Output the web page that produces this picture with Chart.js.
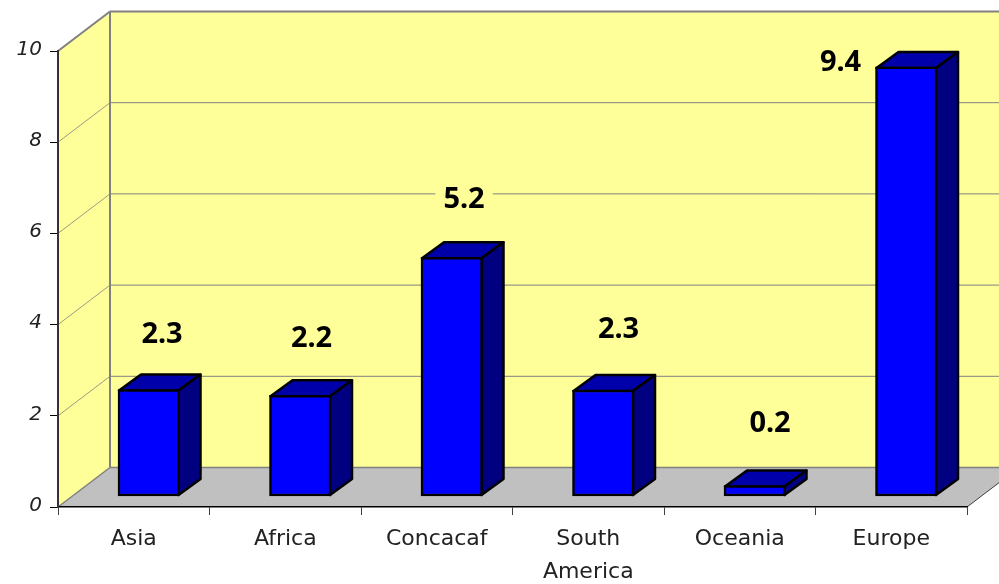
<!DOCTYPE html>
<html><head><meta charset="utf-8">
<style>html,body{margin:0;padding:0;background:#fff;overflow:hidden}canvas{display:block}</style>
<script src="https://cdn.jsdelivr.net/npm/chart.js@4"></script>
</head><body><canvas id="c" width="999" height="584" style="width:999px;height:584px"></canvas>
<script>
const categories = ['Asia', 'Africa', 'Concacaf', ['South', 'America'], 'Oceania', 'Europe'];
const values = [2.345, 2.22, 5.245, 2.335, 0.24, 9.42];
const yTicks = [0, 2, 4, 6, 8, 10];
const labelNudges = [[13.3, -55], [11.3, -57], [12.3, -58], [15.3, -60], [15.3, -61.5], [-65.7, -4.5]];

const LABEL_FONT = '"Noto Sans", sans-serif';
const FONT = '"DejaVu Sans", sans-serif';
const WALL = {dx: 52, dy: -39.5};
const BAR = {tx: 15, ty: -10.5, dx: 22, dy: -16};

function poly(ctx, pts, fill, stroke, lw) {
  ctx.beginPath();
  pts.forEach((p, i) => i ? ctx.lineTo(p[0], p[1]) : ctx.moveTo(p[0], p[1]));
  ctx.closePath();
  if (fill) { ctx.fillStyle = fill; ctx.fill(); }
  if (stroke) { ctx.strokeStyle = stroke; ctx.lineWidth = lw; ctx.lineJoin = 'round'; ctx.stroke(); }
}
function line(ctx, a, b, c, lw) {
  ctx.beginPath(); ctx.moveTo(a[0], a[1]); ctx.lineTo(b[0], b[1]);
  ctx.strokeStyle = c; ctx.lineWidth = lw; ctx.stroke();
}

const box3d = {
  id: 'box3d',
  beforeDraw(chart) {
    const {ctx, chartArea: a, scales: {y}} = chart;
    const d = WALL;
    ctx.save();
    ctx.fillStyle = '#fff'; ctx.fillRect(0, 0, chart.width, chart.height);
    poly(ctx, [[a.left + d.dx, a.top + d.dy], [a.right + d.dx, a.top + d.dy], [a.right + d.dx, a.bottom + d.dy], [a.left + d.dx, a.bottom + d.dy]], '#FFFF99');
    poly(ctx, [[a.left, a.top], [a.left + d.dx, a.top + d.dy], [a.left + d.dx, a.bottom + d.dy], [a.left, a.bottom]], '#FFFF99');
    poly(ctx, [[a.left, a.bottom], [a.right, a.bottom], [a.right + d.dx, a.bottom + d.dy], [a.left + d.dx, a.bottom + d.dy]], '#C0C0C0');
    yTicks.forEach(t => {
      const py = y.getPixelForValue(t);
      const edge = t === 10 ? 2 : t === 0 ? 1.5 : 0.8;
      const back = t === 10 ? 2 : t === 0 ? 1.5 : 1;
      line(ctx, [a.left, py], [a.left + d.dx, py + d.dy], '#808080', edge);
      line(ctx, [a.left + d.dx, py + d.dy], [a.right + d.dx, py + d.dy], '#808080', back);
    });
    line(ctx, [a.left + d.dx, a.top + d.dy], [a.left + d.dx, a.bottom + d.dy], '#808080', 2);
    line(ctx, [a.right, a.bottom], [a.right + d.dx, a.bottom + d.dy], '#404040', 1);
    ctx.restore();
  },
  beforeDatasetsDraw(chart) {
    const {ctx} = chart;
    ctx.save();
    ctx.translate(BAR.tx, BAR.ty);
    chart.getDatasetMeta(0).data.forEach(el => {
      const l = el.x - el.width / 2, r = el.x + el.width / 2, t = el.y, b = el.base;
      const inset = 1;
      poly(ctx, [[l + inset, t + inset], [r - inset, t + inset], [r - inset + BAR.dx, t + inset + BAR.dy], [l + inset + BAR.dx, t + inset + BAR.dy]], '#0000AA', '#000', 2.5);
      poly(ctx, [[r - inset, t + inset], [r - inset + BAR.dx, t + inset + BAR.dy], [r - inset + BAR.dx, b - inset + BAR.dy], [r - inset, b - inset]], '#000080', '#000', 2.5);
    });
  },
  afterDatasetsDraw(chart) {
    const {ctx} = chart;
    ctx.restore();
    ctx.save();
    ctx.font = 'bold 29px ' + LABEL_FONT;
    ctx.textAlign = 'center';
    ctx.textBaseline = 'middle';
    chart.getDatasetMeta(0).data.forEach((el, i) => {
      const cx = el.x + BAR.tx + labelNudges[i][0];
      const cy = el.y + BAR.ty + labelNudges[i][1];
      const text = values[i].toFixed(1);
      const w = ctx.measureText(text).width + 16;
      ctx.fillStyle = '#FFFF99';
      ctx.fillRect(cx - w / 2, cy - 14, w, 28);
      ctx.fillStyle = '#000';
      ctx.fillText(text, cx, cy);
    });
    ctx.restore();
  }
};

new Chart(document.getElementById('c'), {
  type: 'bar',
  data: {
    labels: categories,
    datasets: [{
      data: values,
      backgroundColor: '#0000FF',
      borderColor: '#000',
      borderWidth: 2.5,
      borderSkipped: false,
      barThickness: 61.5,
      clip: false
    }]
  },
  plugins: [box3d],
  options: {
    responsive: false,
    devicePixelRatio: 1,
    animation: false,
    layout: {padding: {left: 0, top: 51, right: 32, bottom: 0}},
    plugins: {legend: {display: false}, tooltip: {enabled: false}, title: {display: false}},
    scales: {
      x: {
        grid: {drawOnChartArea: false, color: '#404040', tickColor: '#404040', tickLength: 8, lineWidth: 1},
        border: {color: '#000', width: 1.5},
        ticks: {color: '#222', font: {family: FONT, size: 22, lineHeight: 1.5}, padding: 8, maxRotation: 0, autoSkip: false},
        afterFit(s) { s.height = 77; }
      },
      y: {
        min: 0, max: 10,
        afterBuildTicks(s) { s.ticks = yTicks.map(v => ({value: v})); },
        grid: {drawOnChartArea: false, color: '#000', tickColor: '#000', tickLength: 8, lineWidth: 1},
        border: {color: '#333', width: 2},
        ticks: {color: '#222', font: {family: FONT, size: 20, style: 'italic'}, padding: 8, labelOffset: -1.5},
        afterFit(s) { s.width = 58; }
      }
    }
  }
});
</script></body></html>
